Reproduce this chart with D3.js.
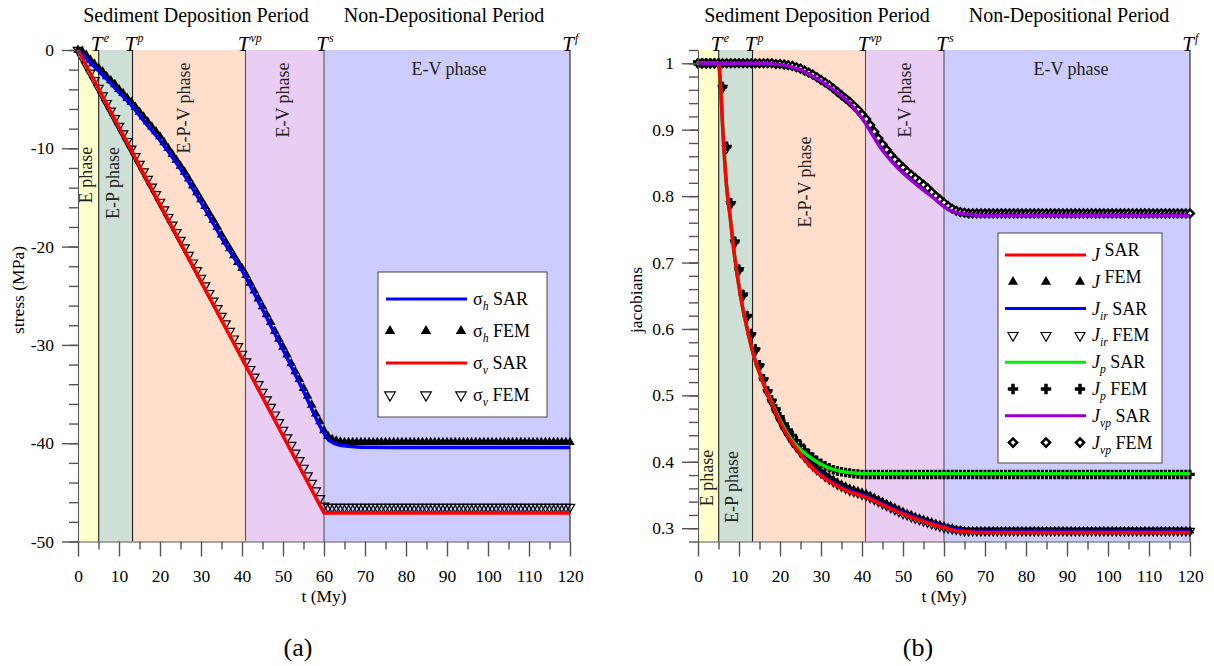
<!DOCTYPE html>
<html><head><meta charset="utf-8">
<script src="https://cdn.jsdelivr.net/npm/d3@7/dist/d3.min.js"></script>
<style>html,body{margin:0;padding:0;background:#fff;}</style>
</head><body>
<script>
// ---------------- DATA ----------------
// phase boundaries (My) and labels
const phaseBounds = [0, 5.05, 13.3, 40.85, 60, 120];
const boundaryNames = ["e", "p", "vp", "s", "f"];
const xMajorTicks = [0,10,20,30,40,50,60,70,80,90,100,110,120];
const yTicksStress = [-50,-40,-30,-20,-10,0];
const yTicksJac = [0.3,0.4,0.5,0.6,0.7,0.8,0.9,1];

// (a) stress, SAR curves
const sigHSarT = [0,2,4,6,8,10,13.4,16,20,25,30,35,40.9,45,50,55,60,61,62,63,64,66,68,70,80,90,100,110,120];
const sigHSar  = [0,-0.85,-1.7,-2.55,-3.4,-4.3,-5.8,-7.2,-9.2,-12.1,-15.5,-19.1,-23.1,-26.4,-30.5,-34.7,-39.0,-39.6,-39.9,-40.1,-40.2,-40.32,-40.38,-40.42,-40.45,-40.45,-40.45,-40.45,-40.45];
const sigVSarT = [0,60,120];
const sigVSar  = [0,-47.1,-47.1];

// FEM time steps
const femT = [0,1,2,3,4,5,6,7,8,9,10,11,12,13,14,15,16,17,18,19,20,21,22,23,24,25,26,27,28,29,30,31,32,33,34,35,36,37,38,39,40,41,42,43,44,45,46,47,48,49,50,51,52,53,54,55,56,57,58,59,60,61,62,63,64,65,66,67,68,69,70,71,72,73,74,75,76,77,78,79,80,81,82,83,84,85,86,87,88,89,90,91,92,93,94,95,96,97,98,99,100,101,102,103,104,105,106,107,108,109,110,111,112,113,114,115,116,117,118,119,120];

const sigHFem = [0,-0.1,-0.5,-1.0,-1.4,-1.8,-2.2,-2.7,-3.1,-3.5,
 -4.0,-4.4,-4.9,-5.3,-5.8,-6.3,-6.8,-7.3,-7.8,-8.3,
 -8.8,-9.4,-10.0,-10.6,-11.2,-11.8,-12.4,-13.1,-13.8,-14.5,
 -15.2,-15.9,-16.6,-17.3,-18.0,-18.8,-19.5,-20.2,-20.9,-21.6,
 -22.2,-22.9,-23.7,-24.5,-25.3,-26.1,-26.9,-27.7,-28.6,-29.4,
 -30.2,-31.0,-31.9,-32.7,-33.5,-34.4,-35.2,-36.1,-37.0,-37.8,
 -38.7,-39.3,-39.6,-39.75,-39.85,
 -39.9,-39.9,-39.9,-39.9,-39.9,-39.9,-39.9,-39.9,-39.9,-39.9,
 -39.9,-39.9,-39.9,-39.9,-39.9,-39.9,-39.9,-39.9,-39.9,-39.9,
 -39.9,-39.9,-39.9,-39.9,-39.9,-39.9,-39.9,-39.9,-39.9,-39.9,
 -39.9,-39.9,-39.9,-39.9,-39.9,-39.9,-39.9,-39.9,-39.9,-39.9,
 -39.9,-39.9,-39.9,-39.9,-39.9,-39.9,-39.9,-39.9,-39.9,-39.9,
 -39.9,-39.9,-39.9,-39.9,-39.9,-39.9];

const sigVFem = [0,-0.77,-1.55,-2.32,-3.09,-3.87,-4.64,-5.41,-6.18,-6.96,
 -7.73,-8.5,-9.28,-10.05,-10.82,-11.6,-12.37,-13.14,-13.91,-14.69,
 -15.46,-16.23,-17.01,-17.78,-18.55,-19.33,-20.1,-20.87,-21.64,-22.42,
 -23.19,-23.96,-24.74,-25.51,-26.28,-27.06,-27.83,-28.6,-29.37,-30.15,
 -30.92,-31.69,-32.47,-33.24,-34.01,-34.79,-35.56,-36.33,-37.1,-37.88,
 -38.65,-39.42,-40.2,-40.97,-41.74,-42.52,-43.29,-44.06,-44.83,-45.61,
 -46.38,
 -46.5,-46.5,-46.5,-46.5,-46.5,-46.5,-46.5,-46.5,-46.5,-46.5,
 -46.5,-46.5,-46.5,-46.5,-46.5,-46.5,-46.5,-46.5,-46.5,-46.5,
 -46.5,-46.5,-46.5,-46.5,-46.5,-46.5,-46.5,-46.5,-46.5,-46.5,
 -46.5,-46.5,-46.5,-46.5,-46.5,-46.5,-46.5,-46.5,-46.5,-46.5,
 -46.5,-46.5,-46.5,-46.5,-46.5,-46.5,-46.5,-46.5,-46.5,-46.5,
 -46.5,-46.5,-46.5,-46.5,-46.5,-46.5,-46.5,-46.5,-46.5,-46.5];

// (b) jacobians, SAR curves
const jSarT  = [0,5,5.5,6.1,6.9,7.9,8.7,10.4,12.2,13.8,15.1,16.3,18,20,22,24,27,30,33,36,40.9,44,47.6,51,54.1,57,60,62,64,67,70,120];
const jSar   = [1,1,0.965,0.894,0.819,0.765,0.72,0.648,0.594,0.555,0.532,0.512,0.488,0.46,0.438,0.42,0.396,0.379,0.367,0.357,0.347,0.338,0.328,0.319,0.312,0.306,0.301,0.2975,0.2955,0.294,0.2935,0.2935];
const jIrSar = [1,1,0.967,0.896,0.821,0.767,0.722,0.65,0.596,0.557,0.534,0.514,0.49,0.462,0.44,0.422,0.398,0.381,0.369,0.359,0.349,0.34,0.33,0.321,0.314,0.308,0.303,0.2995,0.2975,0.296,0.2955,0.2955];
const jpSarT = [0,5,5.5,6.1,6.9,7.9,8.7,10.4,12.2,13.8,15.1,16.3,18,20,23.2,27.3,31.4,35.4,39.5,45,120];
const jpSar  = [1,1,0.965,0.894,0.819,0.765,0.72,0.648,0.594,0.555,0.532,0.512,0.489,0.463,0.43,0.407,0.392,0.385,0.3825,0.382,0.382];
const jvpSarT = [0,15,17,20,22.4,25,28.1,31,34.6,37,40.8,42,44.4,47,49.3,52,55,57.5,59.8,62,65,68.8,120];
const jvpSar  = [1,1,0.9995,0.998,0.995,0.99,0.98,0.969,0.953,0.94,0.91,0.898,0.874,0.854,0.839,0.824,0.809,0.797,0.785,0.777,0.773,0.771,0.771];

// (b) FEM
const jFem = [1,1,1,1,1,1,
 0.965,0.875,0.79,0.732,0.69,0.652,0.62,0.593,0.57,0.546,
 0.525,0.507,0.492,0.478,0.465,0.453,0.443,0.433,0.425,0.417,
 0.41,0.403,0.397,0.391,0.386,0.381,0.377,0.373,0.369,0.366,
 0.363,0.36,0.358,0.356,0.354,0.352,0.349,0.346,0.343,0.34,
 0.337,0.334,0.331,0.328,0.325,0.322,0.32,0.317,0.315,0.313,
 0.311,0.309,0.307,0.305,0.303,0.301,0.3,0.298,0.297,
 0.296,0.296,0.296,0.296,0.296,0.296,0.296,0.296,0.296,0.296,
 0.296,0.296,0.296,0.296,0.296,0.296,0.296,0.296,0.296,0.296,
 0.296,0.296,0.296,0.296,0.296,0.296,0.296,0.296,0.296,0.296,
 0.296,0.296,0.296,0.296,0.296,0.296,0.296,0.296,0.296,0.296,
 0.296,0.296,0.296,0.296,0.296,0.296,0.296,0.296,0.296,0.296,
 0.296,0.296,0.296,0.296,0.296,0.296];
const jIrFem = [1,1,1,1,1,1,
 0.963,0.872,0.788,0.73,0.688,0.65,0.618,0.59,0.567,0.543,
 0.522,0.504,0.489,0.475,0.462,0.45,0.44,0.43,0.422,0.414,
 0.407,0.4,0.394,0.388,0.383,0.378,0.374,0.37,0.366,0.363,
 0.36,0.357,0.355,0.353,0.351,0.349,0.346,0.343,0.34,0.337,
 0.334,0.331,0.328,0.325,0.322,0.32,0.317,0.315,0.313,0.311,
 0.309,0.307,0.305,0.303,0.301,0.3,0.299,0.298,0.297,
 0.296,0.296,0.296,0.296,0.296,0.296,0.296,0.296,0.296,0.296,
 0.296,0.296,0.296,0.296,0.296,0.296,0.296,0.296,0.296,0.296,
 0.296,0.296,0.296,0.296,0.296,0.296,0.296,0.296,0.296,0.296,
 0.296,0.296,0.296,0.296,0.296,0.296,0.296,0.296,0.296,0.296,
 0.296,0.296,0.296,0.296,0.296,0.296,0.296,0.296,0.296,0.296,
 0.296,0.296,0.296,0.296,0.296,0.296];
const jpFem = [1,1,1,1,1,1,
 0.965,0.875,0.79,0.732,0.69,0.652,0.62,0.593,0.57,0.546,0.525,0.507,
 0.493,0.48,0.468,0.457,0.448,0.44,0.432,0.425,0.418,0.412,
 0.407,0.402,0.398,0.394,0.391,0.388,0.386,0.385,0.384,0.383,
 0.382,0.3815,0.381,
 0.381,0.381,0.381,0.381,0.381,0.381,0.381,0.381,0.381,0.381,
 0.381,0.381,0.381,0.381,0.381,0.381,0.381,0.381,0.381,0.381,
 0.381,0.381,0.381,0.381,0.381,0.381,0.381,0.381,0.381,0.381,
 0.381,0.381,0.381,0.381,0.381,0.381,0.381,0.381,0.381,0.381,
 0.381,0.381,0.381,0.381,0.381,0.381,0.381,0.381,0.381,0.381,
 0.381,0.381,0.381,0.381,0.381,0.381,0.381,0.381,0.381,0.381,
 0.381,0.381,0.381,0.381,0.381,0.381,0.381,0.381,0.381,0.381,
 0.381,0.381,0.381,0.381,0.381,0.381,0.381,0.381,0.381,0.381];
const jvpFem = [1,1,1,1,1,1,1,1,1,1,1,1,1,1,1,1,1,1,
 1,0.999,0.999,0.998,0.997,0.996,0.994,0.992,0.989,0.986,
 0.983,0.979,0.975,0.971,0.967,0.962,0.957,0.952,0.947,0.942,
 0.936,0.93,0.923,0.916,0.907,0.897,0.887,0.878,0.87,0.862,
 0.855,0.849,0.843,0.837,0.832,0.827,0.822,0.817,0.812,0.806,
 0.8,0.795,0.79,0.785,0.781,0.778,0.776,0.775,
 0.774,0.774,0.774,0.774,0.774,0.774,0.774,0.774,0.774,0.774,
 0.774,0.774,0.774,0.774,0.774,0.774,0.774,0.774,0.774,0.774,
 0.774,0.774,0.774,0.774,0.774,0.774,0.774,0.774,0.774,0.774,
 0.774,0.774,0.774,0.774,0.774,0.774,0.774,0.774,0.774,0.774,
 0.774,0.774,0.774,0.774,0.774,0.774,0.774,0.774,0.774,0.774,
 0.774,0.774,0.774,0.774,0.774];

// ---------------- DRAWING ----------------
const FONT = '"Liberation Serif","Times New Roman",Times,serif';
const TOP = 50, BOT = 541.5;
const phaseColors = ['#FFFFCC','#CEE0D6','#FFDFCC','#E9CDF2','#CCCCFF'];

const svg = d3.select('body').append('svg')
  .attr('width',1214).attr('height',666)
  .style('display','block')
  .attr('font-family',FONT);

function addMarker(g,cx,cy,type,size){
  if(type==='triUp'){
    g.append('path').attr('d',d3.symbol(d3.symbolTriangle,size)())
      .attr('transform',`translate(${cx},${cy})`).attr('fill','#000');
  } else if(type==='triDown'){
    g.append('path').attr('d',d3.symbol(d3.symbolTriangle,size)())
      .attr('transform',`translate(${cx},${cy}) rotate(180)`)
      .attr('fill','none').attr('stroke','#000').attr('stroke-width',1.2);
  } else if(type==='plus'){
    g.append('path').attr('d',d3.symbol(d3.symbolCross,size)())
      .attr('transform',`translate(${cx},${cy})`).attr('fill','#000');
  } else if(type==='diamond'){
    g.append('path').attr('d',d3.symbol(d3.symbolSquare,size)())
      .attr('transform',`translate(${cx},${cy}) rotate(45)`)
      .attr('fill','#fff').attr('stroke','#000').attr('stroke-width',2.4);
  }
}

function styleAxis(s){
  s.attr('font-family',FONT).attr('font-size',17.5);
  s.selectAll('line').attr('stroke','#555').attr('stroke-width',1.4);
  s.selectAll('path.domain').attr('stroke','#555').attr('stroke-width',1);
  s.selectAll('text').attr('fill','#000');
}

function richText(g, x, y, item, size){
  const t = g.append('text').attr('x',x).attr('y',y).attr('font-size',size);
  t.append('tspan').text(item.main).attr('font-style', item.mainItalic ? 'italic':'normal');
  t.append('tspan').text(item.sub).attr('font-style','italic').attr('font-size',size*0.65).attr('dy',5);
  t.append('tspan').text(item.rest).attr('dy',-5);
}

function drawPanel(o){
  const x = d3.scaleLinear().domain([0,120]).range([o.x0,o.x1]);
  const y = d3.scaleLinear().domain(o.yDom).range([BOT,TOP]);
  const g = svg.append('g');

  // phase regions
  for(let i=0;i<phaseColors.length;i++){
    g.append('rect').attr('x',x(phaseBounds[i])).attr('y',TOP)
      .attr('width',x(phaseBounds[i+1])-x(phaseBounds[i])).attr('height',BOT-TOP)
      .attr('fill',phaseColors[i]);
  }
  phaseBounds.slice(1).forEach((b,i)=>{
    g.append('line').attr('x1',x(b)).attr('x2',x(b)).attr('y1',TOP).attr('y2',BOT)
      .attr('stroke', i===2||i===3 ? '#555' : '#222').attr('stroke-width',1.1);
  });

  // phase labels
  o.phaseLabels.forEach(p=>{
    const t = g.append('text').attr('font-size',18).attr('fill','#222').attr('text-anchor','middle').text(p.text);
    if(p.rot) t.attr('transform',`translate(${p.x},${p.y}) rotate(-90)`);
    else t.attr('x',p.x).attr('y',p.y);
  });

  // FEM markers
  const gm = g.append('g');
  o.fem.forEach(f=>{
    const n = Math.min(femT.length, f.v.length);
    for(let i=0;i<n;i++) addMarker(gm, x(femT[i]), y(f.v[i]), f.type, f.size);
  });

  // SAR lines
  o.sar.forEach(s=>{
    const line = d3.line().x(d=>x(d[0])).y(d=>y(d[1])).curve(s.curve||d3.curveMonotoneX);
    g.append('path').attr('d',line(d3.zip(s.t,s.v))).attr('fill','none')
      .attr('stroke',s.color).attr('stroke-width',s.w||3).attr('stroke-linejoin','round');
  });

  // axes
  g.append('g').attr('transform',`translate(0,${BOT})`)
    .call(d3.axisBottom(x).tickValues(d3.range(5,120,10)).tickSize(8).tickSizeOuter(0).tickFormat(''))
    .call(s=>s.select('.domain').remove()).call(styleAxis);
  g.append('g').attr('transform',`translate(0,${BOT})`)
    .call(d3.axisBottom(x).tickValues(xMajorTicks).tickSize(15).tickSizeOuter(0).tickPadding(13).tickFormat(d=>String(d)))
    .call(styleAxis);
  g.append('g').attr('transform',`translate(${o.x0},0)`)
    .call(d3.axisLeft(y).tickValues(o.yMinor).tickSize(9).tickSizeOuter(0).tickFormat(''))
    .call(s=>s.select('.domain').remove()).call(styleAxis);
  g.append('g').attr('transform',`translate(${o.x0},0)`)
    .call(d3.axisLeft(y).tickValues(o.yMajor).tickSize(16).tickSizeOuter(0).tickPadding(8).tickFormat(d=>String(d)))
    .call(styleAxis);

  // axis titles
  g.append('text').attr('x',x(60)).attr('y',602).attr('text-anchor','middle').attr('font-size',17.5).text('t (My)');
  g.append('text').attr('transform',`translate(${o.yTitleX},${o.yTitleY}) rotate(-90)`)
    .attr('text-anchor','middle').attr('font-size',17.5).text(o.yTitle);

  // boundary labels T^x
  phaseBounds.slice(1).forEach((b,i)=>{
    g.append('text').attr('x',x(b)-2).attr('y',51).attr('text-anchor','middle')
      .attr('font-style','italic').attr('font-size',21).text('T');
    g.append('text').attr('x',x(b)+5).attr('y',42)
      .attr('font-style','italic').attr('font-size',12).text(boundaryNames[i]);
  });

  // period titles
  g.append('text').attr('x',o.periodX[0]).attr('y',22).attr('text-anchor','middle').attr('font-size',20).text('Sediment Deposition Period');
  g.append('text').attr('x',o.periodX[1]).attr('y',22).attr('text-anchor','middle').attr('font-size',20).text('Non-Depositional Period');

  // legend
  const L = o.legend;
  g.append('rect').attr('x',L.x).attr('y',L.y).attr('width',L.w).attr('height',L.h)
    .attr('fill','#fff').attr('stroke','#444').attr('stroke-width',1);
  L.items.forEach((it,i)=>{
    const cy = L.row0 + i*L.dy;
    if(it.kind==='line'){
      g.append('line').attr('x1',L.lx1).attr('x2',L.lx2).attr('y1',cy).attr('y2',cy)
        .attr('stroke',it.color).attr('stroke-width',3);
    } else {
      L.mx.forEach(mx=>addMarker(g,mx,cy,it.kind,it.size));
    }
    richText(g, L.tx, cy+6, it, 18);
  });

  // panel letter
  g.append('text').attr('x',o.letterX).attr('y',656).attr('text-anchor','middle').attr('font-size',26).text(o.letter);
}

drawPanel({
  x0:78, x1:570, yDom:[-50,0],
  yMajor: yTicksStress, yMinor: d3.range(-50,0.01,2),
  yTitle:'stress (MPa)', yTitleX:24, yTitleY:290,
  periodX:[196,444],
  letter:'(a)', letterX:298,
  phaseLabels:[
    {text:'E phase', x:92, y:175, rot:true},
    {text:'E-P phase', x:119, y:183, rot:true},
    {text:'E-P-V phase', x:190, y:108, rot:true},
    {text:'E-V phase', x:289, y:100, rot:true},
    {text:'E-V phase', x:449, y:75, rot:false}
  ],
  fem:[
    {v:sigHFem, type:'triUp', size:40},
    {v:sigVFem, type:'triDown', size:38}
  ],
  sar:[
    {t:sigHSarT, v:sigHSar, color:'#0000FF', w:3.5},
    {t:sigVSarT, v:sigVSar, color:'#FF0000', w:3.5, curve:d3.curveLinear}
  ],
  legend:{x:378,y:272,w:169,h:145,row0:299,dy:32,lx1:386,lx2:467,mx:[390,426,461],tx:473,
    items:[
      {kind:'line', color:'#0000FF', main:'σ', sub:'h', rest:' SAR'},
      {kind:'triUp', size:48, main:'σ', sub:'h', rest:' FEM'},
      {kind:'line', color:'#FF0000', main:'σ', sub:'v', rest:' SAR'},
      {kind:'triDown', size:48, main:'σ', sub:'v', rest:' FEM'}
    ]}
});

drawPanel({
  x0:698, x1:1190, yDom:[0.28,1.02],
  yMajor: yTicksJac, yMinor: d3.range(0.28,1.021,0.02),
  yTitle:'jacobians', yTitleX:642, yTitleY:300,
  periodX:[817,1069],
  letter:'(b)', letterX:918,
  phaseLabels:[
    {text:'E phase', x:713, y:478, rot:true},
    {text:'E-P phase', x:738, y:487, rot:true},
    {text:'E-P-V phase', x:811, y:182, rot:true},
    {text:'E-V phase', x:911, y:100, rot:true},
    {text:'E-V phase', x:1071, y:75, rot:false}
  ],
  fem:[
    {v:jFem, type:'triUp', size:34},
    {v:jIrFem, type:'triDown', size:34},
    {v:jpFem, type:'plus', size:50},
    {v:jvpFem, type:'diamond', size:30}
  ],
  sar:[
    {t:jSarT, v:jIrSar, color:'#0000FF', w:3},
    {t:jpSarT, v:jpSar, color:'#00EE00', w:3.5},
    {t:jSarT, v:jSar, color:'#FF0000', w:3.5},
    {t:jvpSarT, v:jvpSar, color:'#9400D3', w:3.5}
  ],
  legend:{x:998,y:233,w:164,h:230,row0:255,dy:26.8,lx1:1005,lx2:1086,mx:[1013,1046,1080],tx:1092,
    items:[
      {kind:'line', color:'#FF0000', main:'J', mainItalic:true, sub:'', rest:' SAR'},
      {kind:'triUp', size:44, main:'J', mainItalic:true, sub:'', rest:' FEM'},
      {kind:'line', color:'#0000FF', main:'J', mainItalic:true, sub:'ir', rest:' SAR'},
      {kind:'triDown', size:44, main:'J', mainItalic:true, sub:'ir', rest:' FEM'},
      {kind:'line', color:'#00EE00', main:'J', mainItalic:true, sub:'p', rest:' SAR'},
      {kind:'plus', size:60, main:'J', mainItalic:true, sub:'p', rest:' FEM'},
      {kind:'line', color:'#9400D3', main:'J', mainItalic:true, sub:'vp', rest:' SAR'},
      {kind:'diamond', size:34, main:'J', mainItalic:true, sub:'vp', rest:' FEM'}
    ]}
});
</script>
</body></html>
